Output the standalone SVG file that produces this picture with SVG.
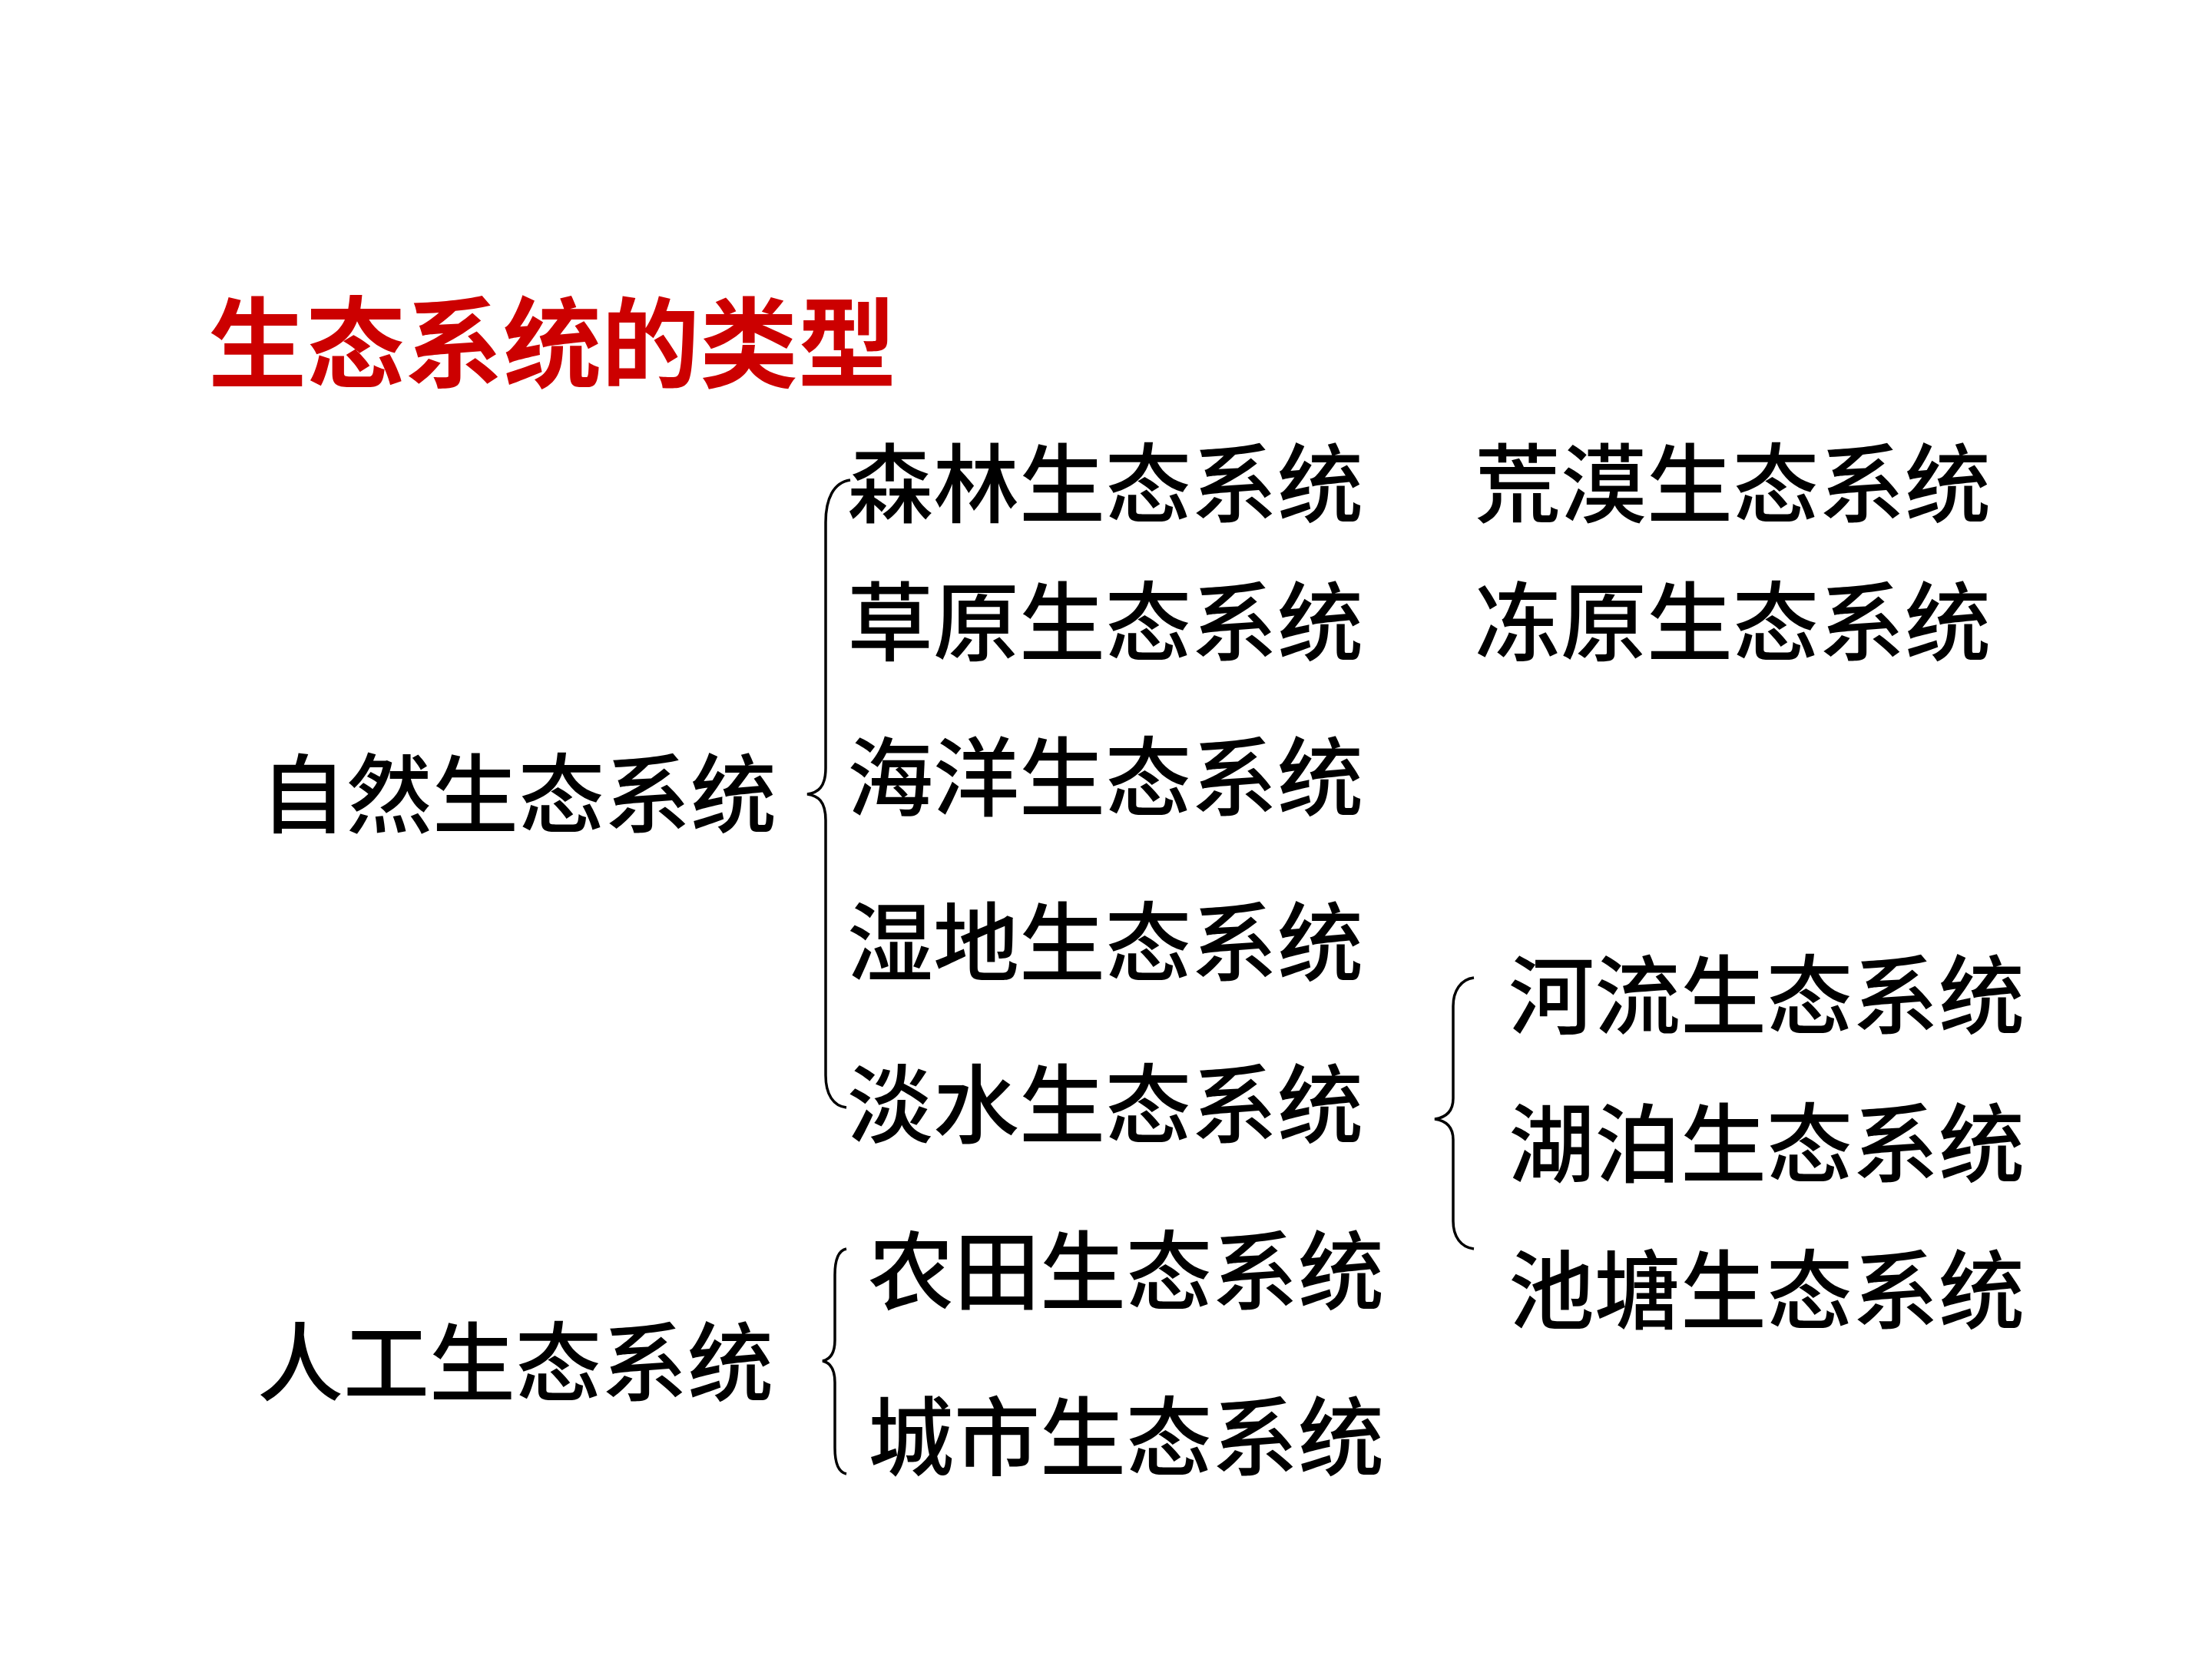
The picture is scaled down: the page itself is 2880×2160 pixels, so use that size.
<svg xmlns="http://www.w3.org/2000/svg" width="2880" height="2160" viewBox="0 0 2880 2160">
<style>
.t{font-family:"Noto Sans CJK SC","Noto Sans CJK JP",sans-serif;font-size:112px;font-weight:500;fill:#000}
.title{font-family:"Noto Sans CJK SC","Noto Sans CJK JP",sans-serif;font-size:128px;font-weight:700;fill:#CC0000}
.br{fill:none;stroke:#000;stroke-width:3.5}
</style>
<rect width="2880" height="2160" fill="#fff"/>
<g id="title"><text class="title" x="271" y="495">生态系统的类型</text></g>
<g id="natural"><text class="t" x="339" y="1076">自然生态系统</text></g>
<g id="artificial"><text class="t" x="335" y="1816">人工生态系统</text></g>
<g id="forest"><text class="t" x="1103" y="672">森林生态系统</text></g>
<g id="grassland"><text class="t" x="1103" y="852">草原生态系统</text></g>
<g id="ocean"><text class="t" x="1103" y="1054">海洋生态系统</text></g>
<g id="wetland"><text class="t" x="1103" y="1269">湿地生态系统</text></g>
<g id="freshwater"><text class="t" x="1103" y="1480">淡水生态系统</text></g>
<g id="farmland"><text class="t" x="1130" y="1697">农田生态系统</text></g>
<g id="city"><text class="t" x="1130" y="1913">城市生态系统</text></g>
<g id="desert"><text class="t" x="1920" y="672">荒漠生态系统</text></g>
<g id="tundra"><text class="t" x="1920" y="852">冻原生态系统</text></g>
<g id="river"><text class="t" x="1964" y="1338">河流生态系统</text></g>
<g id="lake"><text class="t" x="1964" y="1531">湖泊生态系统</text></g>
<g id="pond"><text class="t" x="1964" y="1722">池塘生态系统</text></g>
<g id="connectors">
<path class="br" d="M1107,625 C1085,628 1075,650 1075,680 L1075,1000 C1075,1025 1065,1032 1051,1034 C1065,1036 1075,1043 1075,1068 L1075,1400 C1075,1425 1085,1440 1102,1442"/>
<path class="br" d="M1102,1626 C1092,1628 1087,1640 1087,1660 L1087,1745 C1087,1762 1080,1770 1071,1772 C1080,1774 1087,1782 1087,1800 L1087,1885 C1087,1905 1092,1917 1102,1919"/>
<path class="br" d="M1919,1273 C1902,1275 1892,1290 1892,1310 L1892,1430 C1892,1448 1882,1455 1868,1457 C1882,1459 1892,1466 1892,1484 L1892,1590 C1892,1610 1902,1624 1919,1626"/>
</g>
</svg>
